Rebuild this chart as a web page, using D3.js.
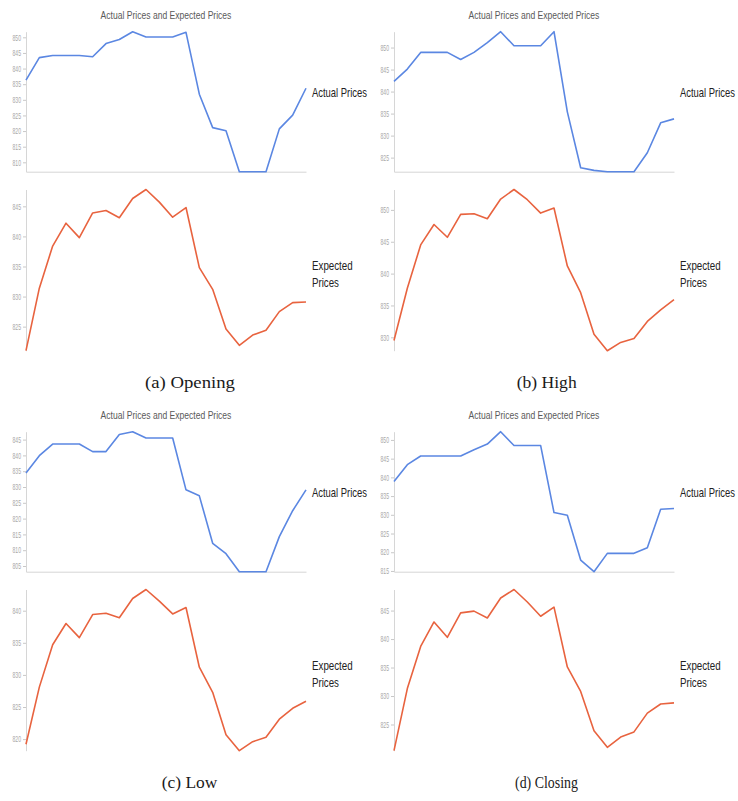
<!DOCTYPE html>
<html>
<head>
<meta charset="utf-8">
<script src="https://cdn.jsdelivr.net/npm/d3@7"></script>
<style>
  body { margin: 0; background: #fff; }
  svg { display: block; }
</style>
</head>
<body>
<svg id="fig" width="738" height="801"></svg>
<script>
// Daily prices over 22 trading days: actual vs. model-expected, per price type.
const openingActual   = [836.3, 843.5, 844.2, 844.2, 844.2, 843.8, 848.0, 849.3, 851.8, 850.1, 850.1, 850.1, 851.6, 831.8, 821.1, 820.1, 807.0, 807.0, 807.0, 820.7, 825.1, 833.7];
const openingExpected = [821.0, 831.4, 838.4, 842.2, 839.8, 843.9, 844.3, 843.1, 846.3, 847.8, 845.7, 843.2, 844.8, 834.8, 831.2, 824.6, 821.9, 823.6, 824.4, 827.5, 829.0, 829.1];

const highActual   = [842.3, 845.1, 848.9, 848.9, 848.9, 847.3, 848.9, 851.1, 853.6, 850.4, 850.4, 850.4, 853.6, 835.4, 822.7, 822.1, 821.8, 821.8, 821.8, 826.1, 832.9, 833.8];
const highExpected = [829.5, 837.7, 844.5, 847.7, 845.7, 849.3, 849.4, 848.6, 851.7, 853.2, 851.6, 849.5, 850.3, 841.2, 837.0, 830.5, 827.9, 829.2, 829.8, 832.5, 834.3, 835.9];

const lowActual   = [834.4, 839.9, 843.6, 843.6, 843.6, 841.2, 841.2, 846.6, 847.5, 845.5, 845.5, 845.5, 829.1, 827.2, 812.2, 808.9, 803.2, 803.2, 803.2, 814.3, 822.5, 829.1];
const lowExpected = [819.2, 828.1, 834.7, 838.0, 835.8, 839.4, 839.6, 838.9, 841.9, 843.3, 841.5, 839.5, 840.5, 831.2, 827.3, 820.7, 818.2, 819.6, 820.3, 823.1, 824.8, 825.9];

const closingActual   = [838.9, 843.4, 845.7, 845.7, 845.7, 845.7, 847.4, 848.9, 852.2, 848.5, 848.5, 848.5, 830.6, 829.9, 817.9, 814.8, 819.7, 819.7, 819.7, 821.2, 831.5, 831.7];
const closingExpected = [820.4, 831.3, 838.7, 843.0, 840.3, 844.6, 844.9, 843.7, 847.2, 848.7, 846.5, 844.0, 845.6, 835.1, 830.8, 823.9, 821.0, 822.8, 823.7, 827.0, 828.6, 828.8];

const chartTitle = "Actual Prices and Expected Prices";
const actualLabel = ["Actual Prices"];
const expectedLabel = ["Expected", "Prices"];
const captions = ["(a) Opening", "(b) High", "(c) Low", "(d) Closing"];

const panels = [
  { caption: captions[0], actual: openingActual, expected: openingExpected },
  { caption: captions[1], actual: highActual,    expected: highExpected },
  { caption: captions[2], actual: lowActual,     expected: lowExpected },
  { caption: captions[3], actual: closingActual, expected: closingExpected }
];

// Panel placement and caption geometry
const layout = [
  { ox: 0,   oy: 0,   cx: 190,   cy: 388, cw: 90 },
  { ox: 368, oy: 0,   cx: 546.7, cy: 388, cw: 60 },
  { ox: 0,   oy: 400, cx: 189.5, cy: 788, cw: 55.6 },
  { ox: 368, oy: 400, cx: 546.5, cy: 788, cw: 63 }
];

const SANS = "'Liberation Sans', Arial, Helvetica, sans-serif";
const SERIF = "'Liberation Serif', 'Times New Roman', serif";
const BLUE = "#5b87e2";
const RED = "#e8633f";

const svg = d3.select("#fig");

// Text drawn in a condensed style: measured, then squeezed horizontally to a given width.
function label(g, txt, x, y, size, width, color, anchor, family) {
  const t = g.append("text")
    .attr("font-family", family || SANS)
    .attr("font-size", size)
    .attr("fill", color)
    .attr("text-anchor", anchor || "start")
    .text(txt);
  const natural = t.node().getComputedTextLength();
  const sx = natural > 0 ? width / natural : 1;
  t.attr("transform", `translate(${x},${y}) scale(${sx},1)`);
  return t;
}

function styleAxis(sel) {
  sel.select(".domain").attr("stroke", "#d6d6d6").attr("stroke-width", 1);
  sel.selectAll(".tick line").attr("stroke", "#c8c8c8");
  sel.selectAll(".tick text")
    .attr("fill", "#a8a8a8")
    .attr("font-family", SANS)
    .attr("font-size", 8.5)
    .attr("textLength", 8.5)
    .attr("lengthAdjust", "spacingAndGlyphs");
}

function drawPanel(p, L) {
  const g = svg.append("g").attr("transform", `translate(${L.ox},${L.oy})`);
  const n = p.actual.length;
  const x = d3.scaleLinear().domain([0, n - 1]).range([26, 306]);
  const yTop = d3.scaleLinear().domain(d3.extent(p.actual)).range([171.7, 31.7]);
  const yBot = d3.scaleLinear().domain(d3.extent(p.expected)).range([350.7, 189.5]);

  // title
  label(g, chartTitle, 166, 19.3, 11.5, 131, "#5a5a5a", "middle");

  // upper chart: actual prices
  g.append("g").attr("transform", "translate(0,171.7)")
    .call(d3.axisBottom(x).ticks(0).tickSizeOuter(0))
    .call(styleAxis);
  g.append("g").attr("transform", "translate(26,0)")
    .call(d3.axisLeft(yTop).ticks(8).tickSize(3).tickPadding(2).tickSizeOuter(0))
    .call(styleAxis);
  g.append("path")
    .datum(p.actual)
    .attr("fill", "none")
    .attr("stroke", BLUE)
    .attr("stroke-width", 1.6)
    .attr("stroke-linejoin", "round")
    .attr("d", d3.line().x((d, i) => x(i)).y(d => yTop(d)));
  label(g, actualLabel[0], 312, 97, 12.5, 55, "#222");

  // lower chart: expected prices
  g.append("g").attr("transform", "translate(26,0)")
    .call(d3.axisLeft(yBot).ticks(5).tickSize(3).tickPadding(2).tickSizeOuter(0))
    .call(styleAxis);
  g.append("path")
    .datum(p.expected)
    .attr("fill", "none")
    .attr("stroke", RED)
    .attr("stroke-width", 1.6)
    .attr("stroke-linejoin", "round")
    .attr("d", d3.line().x((d, i) => x(i)).y(d => yBot(d)));
  label(g, expectedLabel[0], 312, 270, 12.5, 40.7, "#222");
  label(g, expectedLabel[1], 312, 286.5, 12.5, 27, "#222");

  // caption below the panel
  label(svg, p.caption, L.cx, L.cy, 17.5, L.cw, "#1a1a1a", "middle", SERIF);
}

panels.forEach((p, i) => drawPanel(p, layout[i]));
</script>
</body>
</html>
